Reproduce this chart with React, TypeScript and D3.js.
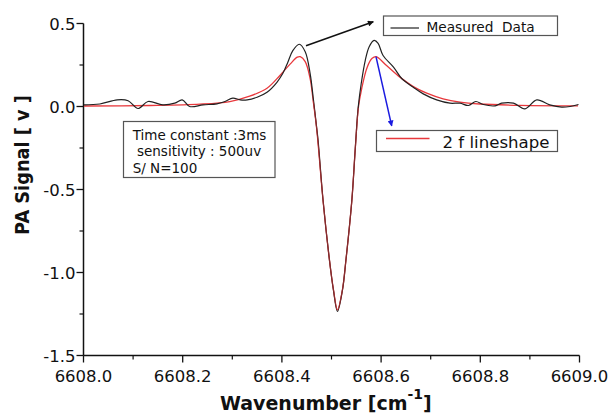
import { useEffect, useRef } from 'react'
import * as d3 from 'd3'

const measuredWavenumber = [
  6608.001, 6608.033, 6608.068, 6608.09, 6608.11, 6608.13, 6608.16, 6608.184, 6608.199, 6608.214,
  6608.241, 6608.269, 6608.285, 6608.301, 6608.316, 6608.33, 6608.35, 6608.37, 6608.39, 6608.402,
  6608.412, 6608.422, 6608.435, 6608.447, 6608.457, 6608.463, 6608.47, 6608.473, 6608.483, 6608.496,
  6608.504, 6608.512, 6608.522, 6608.529, 6608.541, 6608.548, 6608.554, 6608.56, 6608.568, 6608.576,
  6608.586, 6608.594, 6608.604, 6608.625, 6608.642, 6608.665, 6608.685, 6608.712, 6608.739, 6608.759,
  6608.776, 6608.791, 6608.806, 6608.83, 6608.843, 6608.867, 6608.89, 6608.914, 6608.94, 6608.964,
  6608.981, 6608.998,
]
const measuredSignal = [
  0.01, 0.015, 0.04, 0.035, -0.012, 0.03, 0.01, 0.02, 0.04, 0.0,
  0.01, 0.016, 0.03, 0.05, 0.04, 0.04, 0.056, 0.086, 0.146, 0.2,
  0.267, 0.337, 0.375, 0.33, 0.197, 0.056, -0.125, -0.205, -0.566, -0.928,
  -1.108, -1.235, -1.108, -0.928, -0.566, -0.25, 0.0, 0.14, 0.277, 0.36,
  0.398, 0.38, 0.307, 0.237, 0.167, 0.116, 0.076, 0.04, 0.02, 0.02,
  0.006, 0.03, 0.012, 0.004, 0.02, 0.02, -0.014, 0.04, 0.01, -0.004,
  0.0, 0.012,
]

const fitWavenumber = [
  6608.001, 6608.134, 6608.235, 6608.295, 6608.335, 6608.37, 6608.396, 6608.417, 6608.431, 6608.437,
  6608.447, 6608.457, 6608.463, 6608.47, 6608.483, 6608.496, 6608.504, 6608.512, 6608.522, 6608.529,
  6608.541, 6608.548, 6608.554, 6608.561, 6608.572, 6608.582, 6608.59, 6608.611, 6608.638, 6608.665,
  6608.692, 6608.725, 6608.759, 6608.799, 6608.88, 6608.997,
]
const fitSignal = [
  0.003, 0.006, 0.014, 0.03, 0.062, 0.11, 0.187, 0.257, 0.297, 0.3,
  0.27, 0.167, 0.036, -0.13, -0.566, -0.928, -1.105, -1.225, -1.105, -0.928,
  -0.566, -0.25, -0.01, 0.11, 0.237, 0.29, 0.3, 0.247, 0.177, 0.12,
  0.08, 0.046, 0.026, 0.015, 0.007, 0.004,
]

const xTicks = [6608.0, 6608.2, 6608.4, 6608.6, 6608.8, 6609.0]
const xMinorTicks = [6608.1, 6608.3, 6608.5, 6608.7, 6608.9]
const yTicks = [0.5, 0.0, -0.5, -1.0, -1.5]
const yMinorTicks = [0.25, -0.25, -0.75, -1.25]

const infoLines = ['Time constant :3ms', '\u00a0sensitivity : 500uv', 'S/ N=100']

const App = () => {
  const svgRef = useRef(null)

  useEffect(() => {
    const svg = d3.select(svgRef.current)
    svg.selectAll('*').remove()

    const font = 'DejaVu Sans'
    const x = d3.scaleLinear().domain([6608, 6609]).range([83.5, 579.5])
    const y = d3.scaleLinear().domain([0.5, -1.5]).range([23.5, 355.5])
    const fmt = (d) => d.toFixed(1) // plain hyphen like the original

    const defs = svg.append('defs')
    const marker = (id, color) =>
      defs
        .append('marker')
        .attr('id', id)
        .attr('viewBox', '0 0 10 10')
        .attr('refX', 9)
        .attr('refY', 5)
        .attr('markerWidth', 7)
        .attr('markerHeight', 6)
        .attr('markerUnits', 'userSpaceOnUse')
        .attr('orient', 'auto')
        .append('path')
        .attr('d', 'M0,0 L10,5 L0,10 z')
        .attr('fill', color)
    marker('arrowBlack', '#111')
    marker('arrowBlue', '#1a1ae0')

    // axes
    const g = svg.append('g')
    g.append('line')
      .attr('x1', x(6608)).attr('x2', x(6608))
      .attr('y1', y(0.5)).attr('y2', y(-1.5))
      .attr('stroke', '#111').attr('stroke-width', 1.5)
    g.append('line')
      .attr('x1', x(6608)).attr('x2', x(6609))
      .attr('y1', y(-1.5)).attr('y2', y(-1.5))
      .attr('stroke', '#111').attr('stroke-width', 1.5)

    g.selectAll('.ytick')
      .data(yTicks)
      .enter()
      .append('line')
      .attr('x1', x(6608) - 7).attr('x2', x(6608))
      .attr('y1', (d) => y(d)).attr('y2', (d) => y(d))
      .attr('stroke', '#111').attr('stroke-width', 1.3)
    g.selectAll('.yminor')
      .data(yMinorTicks)
      .enter()
      .append('line')
      .attr('x1', x(6608) - 4).attr('x2', x(6608))
      .attr('y1', (d) => y(d)).attr('y2', (d) => y(d))
      .attr('stroke', '#111').attr('stroke-width', 1.2)
    g.selectAll('.ylabel')
      .data(yTicks)
      .enter()
      .append('text')
      .attr('x', x(6608) - 8)
      .attr('y', (d) => y(d) + 6)
      .attr('text-anchor', 'end')
      .style('font-family', font)
      .style('font-size', '16.5px')
      .attr('fill', '#111')
      .text(fmt)

    g.selectAll('.xtick')
      .data(xTicks)
      .enter()
      .append('line')
      .attr('x1', (d) => x(d)).attr('x2', (d) => x(d))
      .attr('y1', y(-1.5)).attr('y2', y(-1.5) + 7)
      .attr('stroke', '#111').attr('stroke-width', 1.3)
    g.selectAll('.xminor')
      .data(xMinorTicks)
      .enter()
      .append('line')
      .attr('x1', (d) => x(d)).attr('x2', (d) => x(d))
      .attr('y1', y(-1.5)).attr('y2', y(-1.5) + 4)
      .attr('stroke', '#111').attr('stroke-width', 1.2)
    g.selectAll('.xlabel')
      .data(xTicks)
      .enter()
      .append('text')
      .attr('x', (d) => x(d))
      .attr('y', 381.5)
      .attr('text-anchor', 'middle')
      .style('font-family', font)
      .style('font-size', '16.5px')
      .attr('fill', '#111')
      .text(fmt)

    // axis titles
    const xt = g.append('text')
      .attr('x', 220)
      .attr('y', 410)
      .style('font-family', font)
      .style('font-size', '19px')
      .style('font-weight', 'bold')
      .attr('fill', '#111')
    xt.append('tspan').text('Wavenumber [cm')
    xt.append('tspan').attr('dy', -11).style('font-size', '14px').text('-1')
    xt.append('tspan').attr('dy', 11).text(']')

    g.append('text')
      .attr('transform', `translate(28.5, ${(95 + 235) / 2}) rotate(-90)`)
      .attr('text-anchor', 'middle')
      .attr('textLength', 140)
      .attr('lengthAdjust', 'spacingAndGlyphs')
      .style('font-family', font)
      .style('font-size', '19px')
      .style('font-weight', 'bold')
      .attr('fill', '#111')
      .text('PA Signal [ v ]')

    // curves
    const line = d3
      .line()
      .x((d) => x(d[0]))
      .y((d) => y(d[1]))
      .curve(d3.curveCatmullRom.alpha(0.5))

    g.append('path')
      .datum(fitWavenumber.map((w, i) => [w, fitSignal[i]]))
      .attr('d', line)
      .attr('fill', 'none')
      .attr('stroke', '#e8383c')
      .attr('stroke-width', 1.3)

    g.append('path')
      .datum(measuredWavenumber.map((w, i) => [w, measuredSignal[i]]))
      .attr('d', line)
      .attr('fill', 'none')
      .attr('stroke', '#222')
      .attr('stroke-width', 1.2)

    // fit drawn faintly over measured in the dip
    g.append('path')
      .datum(fitWavenumber.map((w, i) => [w, fitSignal[i]]).filter((d) => d[0] > 6608.46 && d[0] < 6608.56))
      .attr('d', line)
      .attr('fill', 'none')
      .attr('stroke', '#e8383c')
      .attr('stroke-width', 0.8)
      .attr('stroke-opacity', 0.7)

    // arrows
    g.append('line')
      .attr('x1', x(6608.4486)).attr('y1', y(0.366))
      .attr('x2', x(6608.5843)).attr('y2', y(0.511))
      .attr('stroke', '#111').attr('stroke-width', 1.5)
      .attr('marker-end', 'url(#arrowBlack)')
    g.append('line')
      .attr('x1', x(6608.5897)).attr('y1', y(0.3))
      .attr('x2', x(6608.6214)).attr('y2', y(-0.117))
      .attr('stroke', '#1a1ae0').attr('stroke-width', 1.5)
      .attr('marker-end', 'url(#arrowBlue)')

    // legend boxes
    const box = (x0, y0, w, h) =>
      g.append('rect')
        .attr('x', x0).attr('y', y0).attr('width', w).attr('height', h)
        .attr('fill', 'white').attr('stroke', '#555').attr('stroke-width', 1.2)

    box(383.5, 16, 174, 19.5)
    g.append('line')
      .attr('x1', 390.5).attr('x2', 419).attr('y1', 28).attr('y2', 28)
      .attr('stroke', '#222').attr('stroke-width', 1.2)
    g.append('text')
      .attr('x', 426.5).attr('y', 32.3)
      .style('font-family', font).style('font-size', '13.7px')
      .attr('fill', '#111')
      .text('Measured\u00a0 Data')

    box(376.5, 130.5, 181, 21)
    g.append('line')
      .attr('x1', 386).attr('x2', 429.5).attr('y1', 138.5).attr('y2', 138.5)
      .attr('stroke', '#e8383c').attr('stroke-width', 1.3)
    g.append('text')
      .attr('x', 442.5).attr('y', 148.3)
      .style('font-family', font).style('font-size', '16.6px')
      .attr('fill', '#111')
      .text('2 f lineshape')

    box(123.5, 121.5, 151.5, 56)
    g.selectAll('.info')
      .data(infoLines)
      .enter()
      .append('text')
      .attr('x', 132.7)
      .attr('y', (d, i) => 140 + i * 16.4)
      .style('font-family', font).style('font-size', '13.5px')
      .attr('fill', '#111')
      .text((d) => d)
  }, [])

  return (
    <svg
      ref={svgRef}
      width={613}
      height={416}
      style={{ position: 'absolute', left: 0, top: 0, background: 'white' }}
    ></svg>
  )
}

export default App
